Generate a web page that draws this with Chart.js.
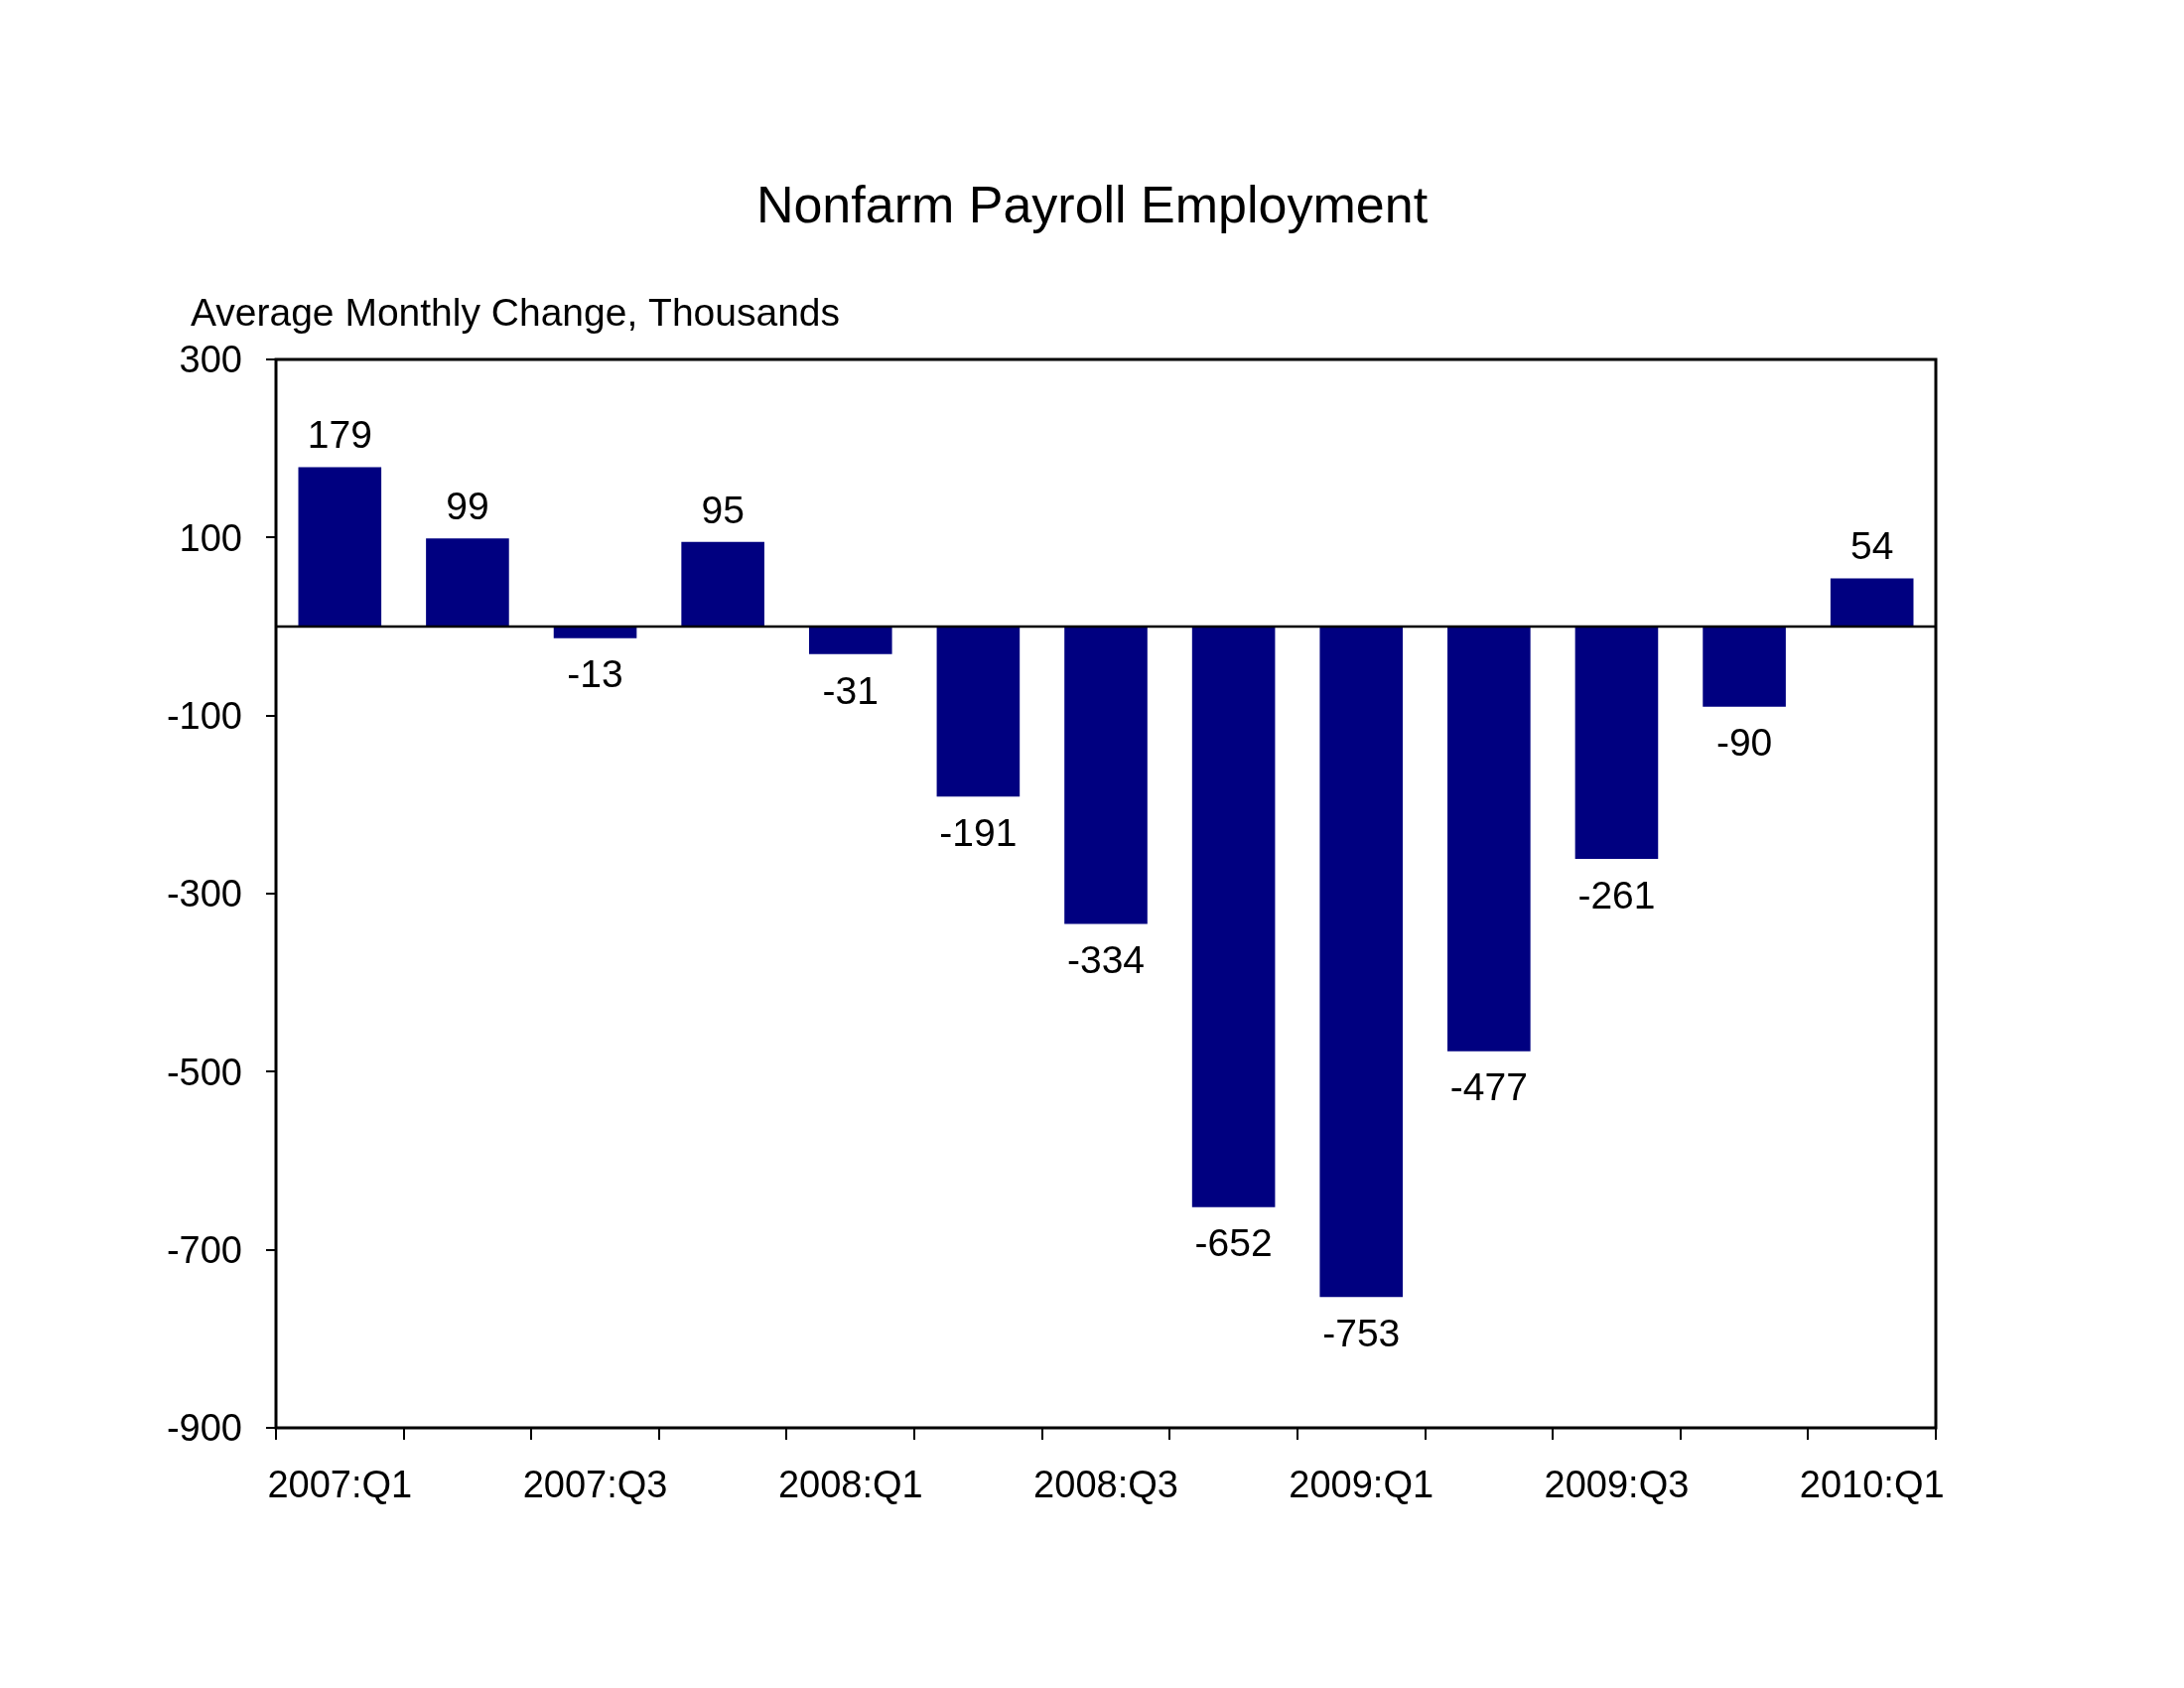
<!DOCTYPE html>
<html>
<head>
<meta charset="utf-8">
<title>Nonfarm Payroll Employment</title>
<script src="https://cdn.jsdelivr.net/npm/chart.js@4/dist/chart.umd.min.js"></script>
<style>
  html, body { margin: 0; padding: 0; background: #fff; }
  canvas { display: block; }
</style>
</head>
<body>
<canvas id="grafico" width="2200" height="1700"></canvas>
<script>
// datos
const quarters = ['2007:Q1', '2007:Q2', '2007:Q3', '2007:Q4', '2008:Q1', '2008:Q2', '2008:Q3',
                  '2008:Q4', '2009:Q1', '2009:Q2', '2009:Q3', '2009:Q4', '2010:Q1'];
const avgChange = [179, 99, -13, 95, -31, -191, -334, -652, -753, -477, -261, -90, 54];
const yTickValues = [-900, -700, -500, -300, -100, 100, 300];

const titulo = 'Nonfarm Payroll Employment';
const unidades = 'Average Monthly Change, Thousands';
const fuente = '"Liberation Sans", Arial, sans-serif';

// titulo, marco, linea de cero y etiquetas de valor
const extras = {
    id: 'extras',
    afterDatasetsDraw(chart) {
        const ctx = chart.ctx;
        const area = chart.chartArea;
        const y0 = chart.scales.y.getPixelForValue(0);
        ctx.save();

        ctx.strokeStyle = '#000';
        ctx.lineWidth = 2.5;
        ctx.beginPath();
        ctx.moveTo(area.left, y0);
        ctx.lineTo(area.right, y0);
        ctx.stroke();

        ctx.lineWidth = 3;
        ctx.strokeRect(area.left, area.top, area.right - area.left, area.bottom - area.top);

        ctx.fillStyle = '#000';
        ctx.font = '39px ' + fuente;
        ctx.textAlign = 'center';
        ctx.textBaseline = 'middle';
        chart.getDatasetMeta(0).data.forEach((bar, i) => {
            const v = avgChange[i];
            const y = v >= 0 ? bar.y - 30 : bar.y + 39;
            ctx.fillText(String(v), bar.x, y);
        });

        ctx.font = '52px ' + fuente;
        ctx.fillText(titulo, 1100, 210);

        ctx.font = '39px ' + fuente;
        ctx.textAlign = 'left';
        ctx.fillText(unidades, 192, 317);
        ctx.restore();
    }
};

new Chart(document.getElementById('grafico'), {
    type: 'bar',
    data: {
        labels: quarters,
        datasets: [{
            data: avgChange,
            backgroundColor: '#000080',
            barPercentage: 0.65,
            categoryPercentage: 1
        }]
    },
    options: {
        responsive: false,
        animation: false,
        devicePixelRatio: 1,
        layout: { padding: { left: 138, right: 250, top: 362, bottom: 162 } },
        plugins: {
            legend: { display: false },
            tooltip: { enabled: false }
        },
        scales: {
            x: {
                offset: true,
                border: { display: false },
                grid: { offset: true, drawOnChartArea: false, drawTicks: true, tickLength: 12, color: '#000', lineWidth: 2 },
                ticks: {
                    autoSkip: false,
                    maxRotation: 0,
                    padding: 25,
                    color: '#000',
                    font: { family: fuente, size: 38 },
                    callback: (val, i) => i % 2 === 0 ? quarters[i] : ''
                },
                afterFit: s => { s.height = 100; }
            },
            y: {
                min: -900,
                max: 300,
                border: { display: false },
                grid: { drawOnChartArea: false, drawTicks: true, tickLength: 10, color: '#000', lineWidth: 2 },
                ticks: {
                    padding: 24,
                    labelOffset: 3,
                    color: '#000',
                    font: { family: fuente, size: 38 }
                },
                afterBuildTicks: s => { s.ticks = yTickValues.map(v => ({ value: v })); },
                afterFit: s => { s.width = 140; }
            }
        }
    },
    plugins: [extras]
});
</script>
</body>
</html>
